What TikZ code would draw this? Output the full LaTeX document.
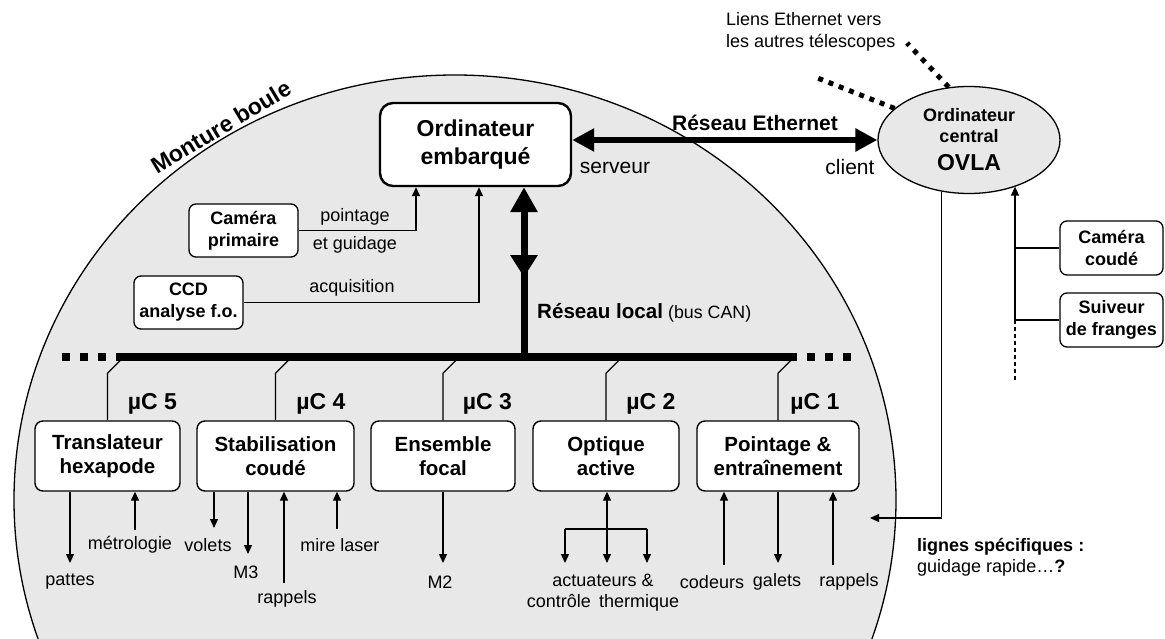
\documentclass[tikz,border=0pt]{standalone}
\usepackage{fontspec}
\setmainfont{Liberation Sans}
\usetikzlibrary{arrows.meta,calc,shapes.geometric,decorations.markings}
\definecolor{bgc}{RGB}{232,232,232}
\begin{document}
\begin{tikzpicture}[x=1pt,y=-1pt,
  thin/.style={line width=1.3pt},
  arr/.style={thin,-{Triangle[length=9pt,width=8pt]}},
  darr/.style={thin,{Triangle[length=9pt,width=8pt]}-{Triangle[length=9pt,width=8pt]}},
  mod/.style={draw,line width=1.4pt,rounded corners=8pt,fill=white,minimum height=70pt,inner sep=0pt,align=center,font=\fontsize{20.5}{24}\selectfont\bfseries},
  sbox/.style={draw,line width=1.3pt,rounded corners=7pt,fill=white,inner sep=0pt,align=center,font=\fontsize{18}{22}\selectfont\bfseries},
  embbox/.style={draw,line width=2.4pt,rounded corners=13pt,fill=white,inner sep=0pt,align=center,minimum width=191pt,minimum height=83pt,font=\fontsize{23}{28}\selectfont\bfseries},
  lbl/.style={inner sep=0pt,align=center,font=\fontsize{18}{21}\selectfont},
  lblbig/.style={inner sep=0pt,align=center,font=\fontsize{21}{24}\selectfont},
  muc/.style={inner sep=0pt,font=\fontsize{23}{27}\selectfont\bfseries},
  thickarr/.style={line width=6pt,{Triangle[length=22pt,width=22pt]}-{Triangle[length=22pt,width=22pt]}},
  dotline/.style={line width=5pt,dash pattern=on 5pt off 6pt}
]
\useasboundingbox (0,0) rectangle (1165,639);
% Monture boule
\begin{scope}
  \clip (0,0) rectangle (1165,639);
  \draw[thin,fill=bgc] (455,500) ellipse [x radius=441pt, y radius=425pt];
\end{scope}
\node[inner sep=0pt,rotate=31,font=\fontsize{23}{27}\selectfont\bfseries] (mb) at (221,127) {Monture boule};

% top-right text and central computer
\node[anchor=west,align=left,inner sep=0pt,font=\fontsize{18}{22}\selectfont] (liens) at (726,32) {Liens Ethernet vers\\les autres télescopes};
\node[ellipse,draw,thin,fill=bgc,minimum width=182pt,minimum height=107pt,inner sep=0pt,align=center,font=\fontsize{18}{21}\selectfont\bfseries] (ovla) at (969,140) {Ordinateur\\central\\[7pt]{\fontsize{23}{26}\selectfont OVLA}};
\coordinate (d1) at (907,43);
\coordinate (d2) at (815,77);
\draw[dotline,dash pattern=on 5pt off 6.5pt] (ovla.111) -- (d1);
\draw[dotline] (ovla.157) -- (d2);

% embedded computer
\node[embbox] (emb) at (475.5,144.5) {Ordinateur\\embarqué};
\draw[thickarr] (emb.east |- ovla.west) -- (ovla.west);
\node[inner sep=0pt,font=\fontsize{21}{24}\selectfont\bfseries] (reth) at (755,123) {Réseau Ethernet};
\node[lblbig] (serv) at (615,168) {serveur};
\node[lblbig] (cli) at (850,167) {client};

% cameras
\node[sbox,minimum width=109pt,minimum height=53pt] (cam) at (243.5,230.5) {Caméra\\primaire};
\node[sbox,minimum width=109pt,minimum height=53pt] (ccd) at (188.5,302.5) {CCD\\analyse f.o.};
\draw[arr] (cam.east) -| ($(emb.south)+(-59.5,0)$);
\draw[arr] (ccd.east) -| ($(emb.south)+(3.5,0)$);
\node[lbl] (lpoi) at (355,217) {pointage};
\node[lbl] (lgui) at (355,245) {et guidage};
\node[lbl] (lacq) at (352,288) {acquisition};

% bus
\coordinate (bl0) at (62,357);
\coordinate (bl) at (117,357);
\coordinate (br) at (797,357);
\coordinate (br1) at (807,357);
\coordinate (br0) at (852,357);
\draw[line width=8pt] (bl) -- (br);
\draw[line width=8pt,dash pattern=on 8pt off 10pt] (bl0) -- (bl);
\draw[line width=8pt,dash pattern=on 8pt off 10pt] (br1) -- (br0);
\coordinate (cant) at ($(emb.south)+(48.5,0)$);
\coordinate (canb) at (cant |- bl);
\draw[line width=7pt,-{Triangle[length=25pt,width=26pt]},
  postaction={decorate},
  decoration={markings,mark=at position 0.47 with {\arrowreversed{Triangle[length=22pt,width=26pt]}}}]
  (canb) -- (cant);
\node[anchor=west,inner sep=0pt] (rl) at (537,313) {{\fontsize{20.6}{24}\selectfont\bfseries Réseau local}\hspace{5pt}{\fontsize{17.8}{21}\selectfont(bus CAN)}};

% modules
\node[mod,minimum width=145pt] (tr) at (107.5,456) {Translateur\\hexapode};
\node[mod,minimum width=157pt] (st) at (275.5,456) {Stabilisation\\coudé};
\node[mod,minimum width=144pt] (en) at (443,456) {Ensemble\\focal};
\node[mod,minimum width=146pt] (op) at (606,456) {Optique\\active};
\node[mod,minimum width=162pt] (po) at (778,456) {Pointage \&\\entraînement};
\foreach \b in {tr,st,en,op,po}{
  \draw[thin] (\b.north) -- ++(0,-47) -- ++(13,-13);
}
\node[muc] (m5) at (152.5,404) {µC 5};
\node[muc] (m4) at (321,404) {µC 4};
\node[muc] (m3) at (487.5,404) {µC 3};
\node[muc] (m2) at (651,404) {µC 2};
\node[muc] (m1) at (815,404) {µC 1};

% module I/O
\coordinate (a1) at (70,563);
\coordinate (a2) at (135,530);
\coordinate (a3) at (214,528);
\coordinate (a4) at (248,554);
\coordinate (a5) at (284,583);
\coordinate (a6) at (337,529);
\coordinate (a7) at (443,563);
\coordinate (a8) at (607,563);
\coordinate (a9) at (565,563);
\coordinate (a10) at (647,563);
\coordinate (h) at (607,529);
\coordinate (a11) at (724,565);
\coordinate (a12) at (778,563);
\coordinate (a13) at (833,565);
\draw[arr] (tr.south -| a1) -- (a1);
\draw[arr] (a2) -- (a2 |- tr.south);
\draw[arr] (st.south -| a3) -- (a3);
\draw[arr] (st.south -| a4) -- (a4);
\draw[arr] (a5) -- (a5 |- st.south);
\draw[arr] (a6) -- (a6 |- st.south);
\draw[arr] (en.south -| a7) -- (a7);
\draw[darr] (op.south -| a8) -- (a8);
\draw[thin] (a9 |- h) -- (a10 |- h);
\draw[arr] (a9 |- h) -- (a9);
\draw[arr] (a10 |- h) -- (a10);
\draw[arr] (a11) -- (a11 |- po.south);
\draw[arr] (po.south -| a12) -- (a12);
\draw[arr] (a13) -- (a13 |- po.south);
\node[lbl] (lpat) at (70,582) {pattes};
\node[lbl] (lmet) at (130,545) {métrologie};
\node[lbl] (lvol) at (208,545) {volets};
\node[lbl] (lm3) at (246,572) {M3};
\node[lbl] (lrap) at (287,599) {rappels};
\node[lbl] (lmire) at (340,545) {mire laser};
\node[lbl] (lm2) at (440,582) {M2};
\node[lbl] (lact) at (603,592.5) {actuateurs \&\\contrôle\hspace{0.45em}thermique};
\node[lbl] (lcod) at (712,582) {codeurs};
\node[lbl] (lgal) at (777,582) {galets};
\node[lbl] (lrap2) at (849,582) {rappels};

% right side
\node[sbox,minimum width=103pt,minimum height=54pt] (camc) at (1111.5,248) {Caméra\\coudé};
\node[sbox,minimum width=103pt,minimum height=54pt] (suiv) at (1111.5,320) {Suiveur\\de franges};
\coordinate (j1) at (1015,320);
\coordinate (j0) at (1015,380);
\draw[thin,dash pattern=on 4pt off 3pt] (j0) -- (j1);
\draw[arr] (j1) -- (j1 |- ovla.315);
\draw[thin] (camc.west) -- (camc.west -| j1);
\draw[thin] (suiv.west) -- (j1);
\coordinate (sp) at (870,518);
\draw[arr] (ovla.242) |- (sp);
\node[anchor=west,align=left,inner sep=0pt,font=\fontsize{18}{21}\selectfont] (ls) at (917,557.5) {\textbf{lignes spécifiques :}\\guidage rapide…\textbf{?}};
\end{tikzpicture}
\end{document}
